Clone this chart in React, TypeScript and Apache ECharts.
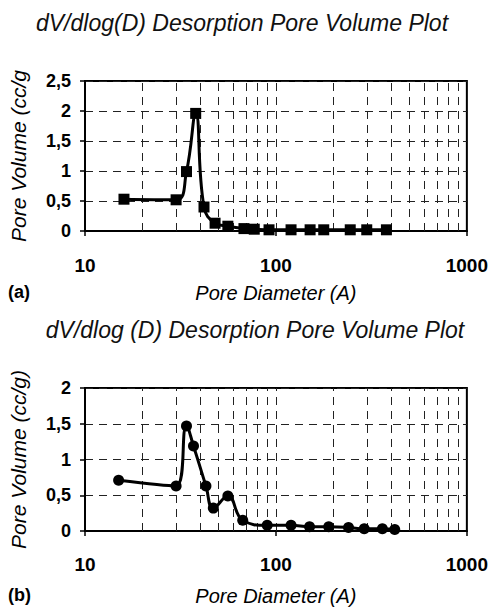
import React, { useEffect, useRef } from 'react';
import * as echarts from 'echarts';

const titleA = 'dV/dlog(D) Desorption Pore Volume Plot';
const titleB = 'dV/dlog (D) Desorption Pore Volume Plot';
const yNameA = 'Pore Volume (cc/g';
const yNameB = 'Pore Volume (cc/g)';
const xName = 'Pore Diameter (A)';
const panelA = '(a)';
const panelB = '(b)';

const diamA = [16, 30, 34, 38, 42, 48, 56, 68, 77, 92, 120, 151, 178, 245, 299, 379];
const volA = [0.53, 0.52, 0.99, 1.96, 0.4, 0.13, 0.08, 0.04, 0.03, 0.02, 0.02, 0.02, 0.02, 0.02, 0.02, 0.02];

const diamB = [15, 30, 34, 37, 43, 47, 56, 67, 90, 120, 150, 189, 240, 290, 361, 419];
const volB = [0.71, 0.63, 1.47, 1.19, 0.63, 0.32, 0.49, 0.15, 0.08, 0.08, 0.06, 0.06, 0.05, 0.03, 0.03, 0.02];

const gridDiameters = [20, 30, 40, 50, 60, 70, 80, 90, 100, 200, 300, 400, 500, 600, 700, 800, 900];
const yMaxA = 2.5;
const yMaxB = 2;
const yStep = 0.5;

const FONT = 'Liberation Sans, Arial, sans-serif';

export default function App() {
  const ref = useRef<HTMLDivElement>(null);
  useEffect(() => {
    const chart = echarts.init(ref.current!, null, { renderer: 'svg' });
    const xAxisBase = (gap: number, labelMargin: number) => ({
      type: 'log',
      logBase: 10,
      min: 10,
      max: 1000,
      axisLine: { show: true, lineStyle: { color: '#000', width: 2 } },
      axisTick: { show: true, length: 5, lineStyle: { color: '#000', width: 1.5 } },
      axisLabel: {
        fontFamily: FONT,
        fontWeight: 'bold',
        fontSize: 19,
        color: '#000',
        margin: labelMargin,
        formatter: (v: number) => String(Math.round(v)),
      },
      splitLine: { show: false },
      minorTick: { show: false },
      name: xName,
      nameLocation: 'middle',
      nameGap: gap,
      nameTextStyle: { fontFamily: FONT, fontStyle: 'italic', fontSize: 20, color: '#000' },
    });
    const yAxisBase = (max: number, name: string) => ({
      type: 'value',
      min: 0,
      max,
      interval: yStep,
      axisLine: { show: true, lineStyle: { color: '#000', width: 2 } },
      axisTick: { show: true, length: 5, lineStyle: { color: '#000', width: 1.5 } },
      axisLabel: {
        fontFamily: FONT,
        fontWeight: 'bold',
        fontSize: 18,
        color: '#000',
        margin: 14,
        formatter: (v: number) => String(v).replace('.', ','),
      },
      splitLine: { show: true, lineStyle: { color: '#222', width: 1, type: [8, 6] } },
      name,
      nameLocation: 'middle',
      nameGap: 56,
      nameTextStyle: { fontFamily: FONT, fontStyle: 'italic', fontSize: 21, color: '#000' },
    });
    const vLines = {
      silent: true,
      symbol: ['none', 'none'],
      label: { show: false },
      lineStyle: { color: '#222', width: 1, type: [8, 6] },
      data: gridDiameters.map((d) => ({ xAxis: d })),
    };
    chart.setOption({
      animation: false,
      backgroundColor: '#fff',
      grid: [
        { left: 82, top: 81, width: 387, height: 150, show: true, borderColor: '#000', borderWidth: 2 },
        { left: 82, top: 388, width: 387, height: 143, show: true, borderColor: '#000', borderWidth: 2 },
      ],
      xAxis: [
        { ...xAxisBase(52, 25), gridIndex: 0 },
        { ...xAxisBase(55, 24), gridIndex: 1 },
      ],
      yAxis: [
        { ...yAxisBase(yMaxA, yNameA), gridIndex: 0 },
        { ...yAxisBase(yMaxB, yNameB), gridIndex: 1 },
      ],
      graphic: [
        { type: 'text', x: 242, y: 23, style: { text: titleA, font: `italic 23px ${FONT}`, fill: '#111', textAlign: 'center', textVerticalAlign: 'middle' } },
        { type: 'text', x: 255, y: 330, style: { text: titleB, font: `italic 23px ${FONT}`, fill: '#111', textAlign: 'center', textVerticalAlign: 'middle' } },
        { type: 'text', x: 8, y: 292, style: { text: panelA, font: `bold 18px ${FONT}`, fill: '#000', textAlign: 'left', textVerticalAlign: 'middle' } },
        { type: 'text', x: 8, y: 595, style: { text: panelB, font: `bold 18px ${FONT}`, fill: '#000', textAlign: 'left', textVerticalAlign: 'middle' } },
      ],
      series: [
        {
          type: 'line',
          xAxisIndex: 0,
          yAxisIndex: 0,
          data: diamA.map((d, i) => [d, volA[i]]),
          smooth: 0.45,
          symbol: 'rect',
          symbolSize: 11,
          itemStyle: { color: '#000' },
          lineStyle: { color: '#000', width: 3 },
          markLine: vLines,
          z: 5,
        },
        {
          type: 'line',
          xAxisIndex: 1,
          yAxisIndex: 1,
          data: diamB.map((d, i) => [d, volB[i]]),
          smooth: 0.45,
          symbol: 'circle',
          symbolSize: 11,
          itemStyle: { color: '#000' },
          lineStyle: { color: '#000', width: 3 },
          markLine: vLines,
          z: 5,
        },
      ],
    });
    return () => chart.dispose();
  }, []);
  return <div ref={ref} style={{ position: 'absolute', left: 0, top: 0, width: 491, height: 607 }} />;
}
